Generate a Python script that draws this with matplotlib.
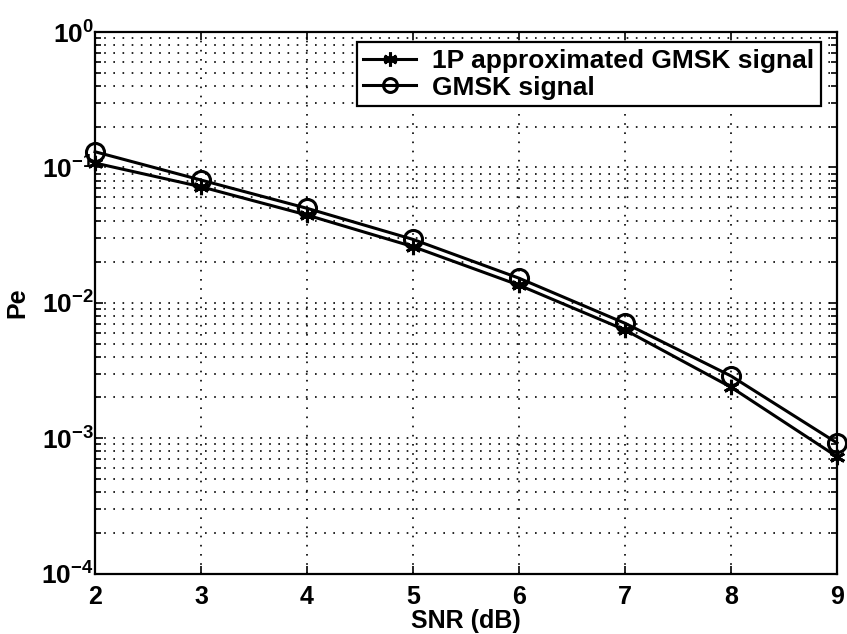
import matplotlib
matplotlib.use("Agg")
import matplotlib.pyplot as plt
from matplotlib.ticker import LogLocator, MultipleLocator, NullFormatter

plt.rcParams['font.family'] = ['Liberation Sans', 'DejaVu Sans']
plt.rcParams['mathtext.default'] = 'regular'

snr = [2, 3, 4, 5, 6, 7, 8, 9]
pe_1p = [0.1078, 0.0720, 0.0445, 0.0260, 0.0135, 0.00630, 0.00238, 0.00073]
pe_gmsk = [0.1306, 0.0807, 0.0499, 0.0294, 0.0152, 0.00706, 0.00288, 0.000922]
labels = ['1P approximated GMSK signal', 'GMSK signal']

fig = plt.figure(figsize=(8.47, 6.34), dpi=100)
ax = fig.add_axes([0.1122, 0.0954, 0.876, 0.854])

ax.semilogy(snr, pe_1p, color='black', lw=2.2, marker=(6, 2, 0), ms=11, mew=2.2,
            label=labels[0], clip_on=False, zorder=3)
ax.semilogy(snr, pe_gmsk, color='black', lw=2.2, marker='o', ms=13, mew=2.2,
            mfc='none', label=labels[1], clip_on=False, zorder=3)

ax.set_xlim(2, 9)
ax.set_ylim(1e-4, 1e0)
ax.xaxis.set_major_locator(MultipleLocator(1))
ax.yaxis.set_major_locator(LogLocator(base=10, numticks=10))
ax.yaxis.set_minor_locator(LogLocator(base=10, subs=range(2, 10), numticks=50))
ax.yaxis.set_minor_formatter(NullFormatter())

ax.grid(True, which='major', axis='both', linestyle=(0, (1, 4.5)), color='black', lw=1.2)
ax.grid(True, which='minor', axis='y', linestyle=(0, (1, 4.5)), color='black', lw=1.2)

ax.tick_params(axis='both', which='both', direction='in', top=True, right=True,
               width=1.2)
ax.tick_params(axis='y', which='major', labelsize=19, pad=1)
ax.tick_params(axis='x', which='major', labelsize=18, pad=8)
ax.tick_params(axis='both', which='major', length=6)
ax.tick_params(axis='both', which='minor', length=4)
for lab in ax.get_xticklabels() + ax.get_yticklabels():
    lab.set_fontweight('bold')

for s in ax.spines.values():
    s.set_linewidth(1.6)

ax.set_xlabel('SNR (dB)', fontsize=18, fontweight='bold')
ax.xaxis.set_label_coords(0.5, -0.066)
ax.set_ylabel('Pe', fontsize=18, fontweight='bold')
ax.yaxis.set_label_coords(-0.088, 0.5)

leg = ax.legend(loc='upper right', bbox_to_anchor=(0.978, 0.981),
                frameon=True, fancybox=False, edgecolor='black', framealpha=1,
                handlelength=2.0, borderpad=0.25, labelspacing=0.1,
                handletextpad=0.6, borderaxespad=0.0,
                prop={'size': 19, 'weight': 'bold'})
leg.get_frame().set_linewidth(1.6)
for h in leg.legend_handles:
    h.set_markersize(10)

fig.savefig('out.png', dpi=100)
